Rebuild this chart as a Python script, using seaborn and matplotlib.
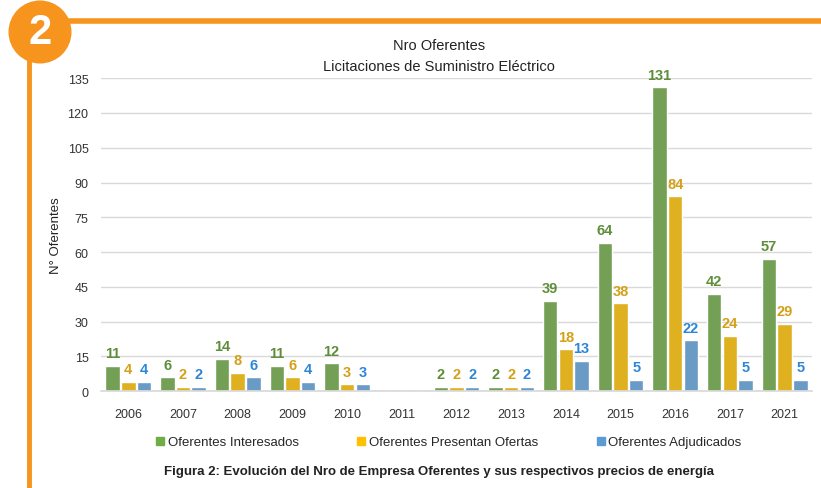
import matplotlib

matplotlib.use("Agg")
import matplotlib.pyplot as plt
import pandas as pd
import seaborn as sns
from matplotlib.lines import Line2D
from matplotlib.patches import Circle

YEARS = ["2006", "2007", "2008", "2009", "2010", "2011", "2012",
         "2013", "2014", "2015", "2016", "2017", "2021"]
INTERESADOS = [11, 6, 14, 11, 12, 0, 2, 2, 39, 64, 131, 42, 57]
PRESENTAN = [4, 2, 8, 6, 3, 0, 2, 2, 18, 38, 84, 24, 29]
ADJUDICADOS = [4, 2, 6, 4, 3, 0, 2, 2, 13, 5, 22, 5, 5]
SERIES = ["Oferentes Interesados", "Oferentes Presentan Ofertas", "Oferentes Adjudicados"]

BAR_COLORS = ["#70AD47", "#FFC000", "#5B9BD5"]
LABEL_COLORS = ["#5E8E3A", "#D4A017", "#2E86D6"]
ORANGE = "#F7941D"

sns.set_theme(style="white")
plt.rcParams["font.family"] = ["Liberation Sans", "DejaVu Sans"]

df = pd.DataFrame({
    "year": YEARS * 3,
    "value": INTERESADOS + PRESENTAN + ADJUDICADOS,
    "serie": [s for s in SERIES for _ in YEARS],
})

fig = plt.figure(figsize=(8.21, 4.89), dpi=100)
ax = fig.add_axes([0.123, 0.198, 0.866, 0.640])

sns.barplot(data=df, x="year", y="value", hue="serie", palette=BAR_COLORS,
            width=0.86, gap=0.08, ax=ax, legend=False)

ax.set_ylim(0, 135)
ax.set_xlim(-0.5, len(YEARS) - 0.5)
ax.set_yticks(range(0, 136, 15))
ax.grid(axis="y", color="#D9D9D9", linewidth=1)
ax.set_axisbelow(True)
for side in ["top", "right", "left"]:
    ax.spines[side].set_visible(False)
ax.spines["bottom"].set_color("#D9D9D9")
ax.tick_params(axis="x", length=0, labelsize=9, colors="#333333", pad=12)
ax.tick_params(axis="y", length=0, labelsize=9, colors="#333333", pad=9)
ax.set_xlabel("")
ax.set_ylabel("N° Oferentes", fontsize=9.5, color="#222222", labelpad=4)

for cont, col in zip(ax.containers, LABEL_COLORS):
    labels = [f"{int(b.get_height())}" if b.get_height() > 0 else "" for b in cont]
    ax.bar_label(cont, labels=labels, padding=4, color=col, fontsize=10.5,
                 fontweight="bold", clip_on=False)

fig.text(0.535, 0.905, "Nro Oferentes", ha="center", va="center", fontsize=10.5, color="#222222")
fig.text(0.535, 0.862, "Licitaciones de Suministro Eléctrico", ha="center", va="center",
         fontsize=10.5, color="#222222")

handles = [Line2D([0], [0], marker="s", linestyle="", markersize=6,
                  markerfacecolor=c, markeredgecolor=c) for c in BAR_COLORS]
fig.legend(handles, SERIES, loc="center", bbox_to_anchor=(0.547, 0.094), ncol=3,
           frameon=False, fontsize=9.5, handlelength=0.6, handletextpad=0.3,
           columnspacing=4.4)

fig.text(0.535, 0.035, "Figura 2: Evolución del Nro de Empresa Oferentes y sus respectivos precios de energía",
         ha="center", va="center", fontsize=9.5, fontweight="bold", color="#222222")

# orange frame decoration
fig.add_artist(Line2D([60 / 821, 1.0], [1 - 22 / 489, 1 - 22 / 489], color=ORANGE,
                      linewidth=4, transform=fig.transFigure))
fig.add_artist(Line2D([29 / 821, 29 / 821], [1 - 60 / 489, 0.0], color=ORANGE,
                      linewidth=3.5, transform=fig.transFigure))
fig.add_artist(Circle((0.40, 4.89 - 0.33), 0.315, facecolor=ORANGE, edgecolor="none",
                      transform=fig.dpi_scale_trans))
fig.text(40 / 821, 1 - 33 / 489, "2", ha="center", va="center", fontsize=30,
         fontweight="bold", color="white")

fig.savefig("out.png", dpi=100)
